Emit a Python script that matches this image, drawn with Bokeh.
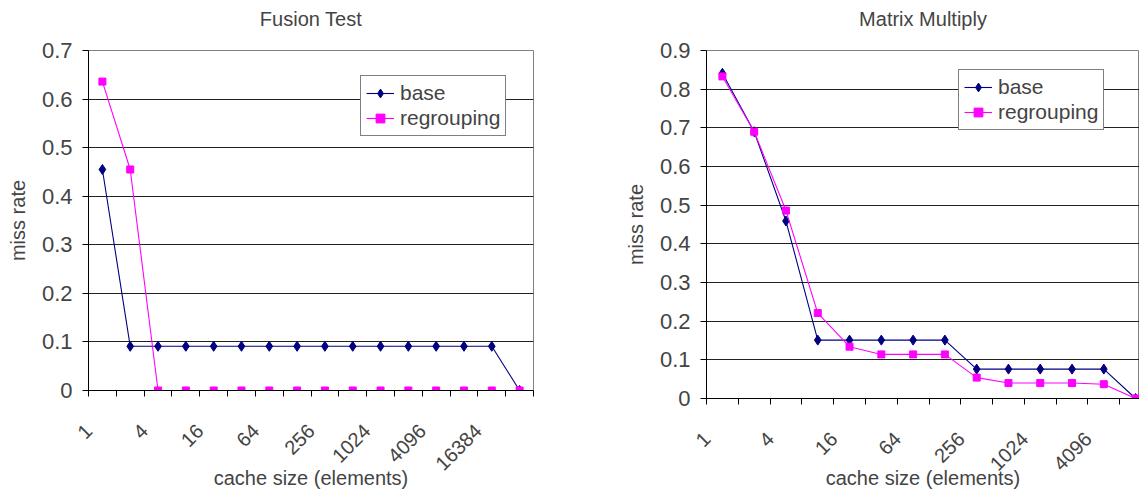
import math
from bokeh.plotting import figure
from bokeh.models import FixedTicker, ColumnDataSource, Legend, Range1d, Title
from bokeh.layouts import row, column
from bokeh.embed import file_html
from bokeh.resources import INLINE

# ---------------- data ----------------
fusion_sizes = [1, 2, 4, 8, 16, 32, 64, 128, 256, 512, 1024, 2048, 4096, 8192, 16384, 32768]
fusion_base = [0.455, 0.091, 0.091, 0.091, 0.091, 0.091, 0.091, 0.091,
               0.091, 0.091, 0.091, 0.091, 0.091, 0.091, 0.091, 0.0]
fusion_regrouping = [0.636, 0.455, 0.0, 0.0, 0.0, 0.0, 0.0, 0.0,
                     0.0, 0.0, 0.0, 0.0, 0.0, 0.0, 0.0, 0.0]
fusion_tick_labels = ["1", "4", "16", "64", "256", "1024", "4096", "16384"]
fusion_y_ticks = [0, 0.1, 0.2, 0.3, 0.4, 0.5, 0.6, 0.7]
fusion_y_labels = ["0", "0.1", "0.2", "0.3", "0.4", "0.5", "0.6", "0.7"]

matrix_sizes = [1, 2, 4, 8, 16, 32, 64, 128, 256, 512, 1024, 2048, 4096, 8192]
matrix_base = [0.841, 0.69, 0.459, 0.151, 0.151, 0.151, 0.151, 0.151,
               0.076, 0.076, 0.076, 0.076, 0.076, 0.0]
matrix_regrouping = [0.833, 0.69, 0.486, 0.221, 0.134, 0.114, 0.114, 0.114,
                     0.054, 0.04, 0.04, 0.04, 0.037, 0.0]
matrix_tick_labels = ["1", "4", "16", "64", "256", "1024", "4096"]
matrix_y_ticks = [0, 0.1, 0.2, 0.3, 0.4, 0.5, 0.6, 0.7, 0.8, 0.9]
matrix_y_labels = ["0", "0.1", "0.2", "0.3", "0.4", "0.5", "0.6", "0.7", "0.8", "0.9"]

FONT = "Liberation Sans"
BASE_COLOR = "#000080"
REG_COLOR = "#FF00FF"
LABEL_SHIFT = 0.49   # category tick labels end left of the category centre (in categories)


def make_chart(title, sizes, base, regroup, y_ticks, y_labels, tick_labels,
               width, border_left, border_right, border_bottom, frame_w_full,
               legend_loc, title_offset, xlabel_standoff):
    n = len(sizes)
    frame_w = width - border_left - border_right
    cat_w = frame_w_full / n
    x_end = -0.5 + frame_w / cat_w
    p = figure(width=width, height=493, output_backend="svg", toolbar_location=None,
               x_range=Range1d(-0.5, x_end), y_range=Range1d(y_ticks[0], y_ticks[-1]),
               min_border_left=border_left, min_border_right=border_right,
               min_border_top=50, min_border_bottom=border_bottom)
    # spacer between title and plot area, then the title itself
    p.add_layout(Title(text=" ", text_font_size="1px", standoff=18), "above")
    p.add_layout(Title(text=title, align="center", offset=title_offset, standoff=0,
                       text_font=FONT, text_font_size="20px",
                       text_font_style="normal"), "above")
    p.background_fill_color = "white"
    p.border_fill_color = "white"
    p.outline_line_color = "#808080"

    xs = list(range(n))
    src = ColumnDataSource(dict(x=xs, base=base, reg=regroup))
    lb = p.line("x", "base", source=src, line_color=BASE_COLOR, line_width=1.1)
    sb = p.scatter("x", "base", source=src, marker="diamond", size=10,
                   fill_color=BASE_COLOR, line_color=BASE_COLOR)
    lr = p.line("x", "reg", source=src, line_color=REG_COLOR, line_width=1.1)
    sr = p.scatter("x", "reg", source=src, marker="square", size=7,
                   fill_color=REG_COLOR, line_color=REG_COLOR)

    # x axis: tick marks at category boundaries (minor), labels near categories (major)
    lab_pos = [sizes.index(int(t)) - LABEL_SHIFT for t in tick_labels]
    p.xaxis.ticker = FixedTicker(ticks=lab_pos, minor_ticks=[i - 0.5 for i in range(n + 1)])
    p.xaxis.major_label_overrides = {pos: t for pos, t in zip(lab_pos, tick_labels)}
    p.xaxis.major_label_orientation = math.pi / 4
    p.xaxis.major_label_text_font = FONT
    p.xaxis.major_label_text_font_size = "20px"
    p.xaxis.major_label_standoff = 31
    p.xaxis.major_tick_out = 0
    p.xaxis.major_tick_in = 0
    p.xaxis.major_tick_line_color = None
    p.xaxis.minor_tick_out = 6
    p.xaxis.minor_tick_in = 0
    p.xaxis.minor_tick_line_color = "black"
    p.xaxis.axis_line_color = "black"
    p.xaxis.axis_label = "cache size (elements)"
    p.xaxis.axis_label_text_font = FONT
    p.xaxis.axis_label_text_font_size = "20px"
    p.xaxis.axis_label_text_font_style = "normal"
    p.xaxis.axis_label_standoff = xlabel_standoff
    p.xgrid.visible = False

    # y axis
    p.yaxis.ticker = FixedTicker(ticks=y_ticks)
    p.yaxis.major_label_overrides = {t: l for t, l in zip(y_ticks, y_labels)}
    p.yaxis.major_label_text_font = FONT
    p.yaxis.major_label_text_font_size = "22px"
    p.yaxis.major_label_standoff = 10
    p.yaxis.major_tick_out = 6
    p.yaxis.major_tick_in = 0
    p.yaxis.minor_tick_line_color = None
    p.yaxis.axis_line_color = "black"
    p.yaxis.major_tick_line_color = "black"
    p.yaxis.axis_label = "miss rate"
    p.yaxis.axis_label_text_font = FONT
    p.yaxis.axis_label_text_font_size = "20px"
    p.yaxis.axis_label_text_font_style = "normal"
    p.yaxis.axis_label_standoff = 10
    p.ygrid.ticker = FixedTicker(ticks=y_ticks)
    p.ygrid.grid_line_color = "#222222"
    p.ygrid.grid_line_width = 1

    legend = Legend(items=[("base", [lb, sb]), ("regrouping", [lr, sr])],
                    location=legend_loc, margin=0, padding=5, spacing=1,
                    glyph_width=28, glyph_height=22, label_height=22,
                    label_standoff=6, label_text_font=FONT,
                    label_text_font_size="21px", border_line_color="black",
                    border_line_width=1, background_fill_color="white",
                    background_fill_alpha=1.0)
    p.add_layout(legend)
    return p


left = make_chart("Fusion Test", fusion_sizes, fusion_base, fusion_regrouping,
                  fusion_y_ticks, fusion_y_labels, fusion_tick_labels,
                  width=575, border_left=88, border_right=42, border_bottom=103,
                  frame_w_full=445, legend_loc=(272, 254), title_offset=5,
                  xlabel_standoff=-13)
right = make_chart("Matrix Multiply", matrix_sizes, matrix_base, matrix_regrouping,
                   matrix_y_ticks, matrix_y_labels, matrix_tick_labels,
                   width=564, border_left=131, border_right=0, border_bottom=95,
                   frame_w_full=445, legend_loc=(252, 268), title_offset=-7,
                   xlabel_standoff=-13)

layout = row(column(left), column(right))
open("out.html", "w").write(file_html(layout, INLINE))
